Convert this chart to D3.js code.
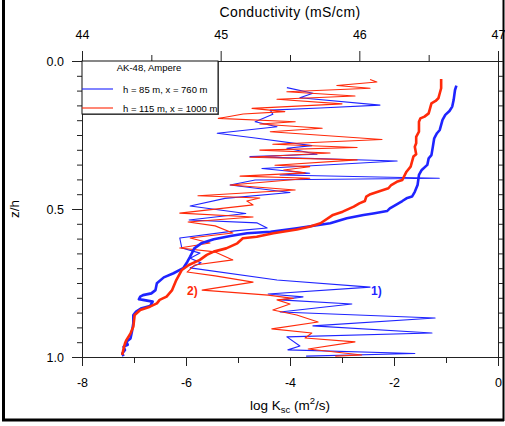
<!DOCTYPE html>
<html><head><meta charset="utf-8">
<script src="https://cdn.jsdelivr.net/npm/d3@7"></script>
<style>body{margin:0;background:#fff}svg{display:block}text{font-family:"Liberation Sans",Arial,sans-serif}</style>
</head><body><svg id="c" width="505" height="426"></svg>
<script>
// ---- data ----
const xTicksK = [-8,-6,-4,-2,0];
const xTicksC = [44,45,46,47];
const yTicks = [0,0.5,1.0];
const seriesNames = ["h = 85 m, x = 760 m","h = 115 m, x = 1000 m"];
const legendTitle = "AK-48, Ampere";
// thick lines: conductivity (mS/cm) vs z/h
const condBlueC = [46.70,46.69,46.68,46.67,46.65,46.62,46.60,46.58,46.56,46.54,46.53,46.52,46.50,46.49,46.45,46.43,46.42,46.40,46.38,46.34,46.31,46.27,46.22,46.20,46.10,46.03,45.91,45.79,45.55,45.36,45.19,45.07,44.95,44.86,44.81,44.78,44.76,44.73,44.66,44.59,44.54,44.53,44.50,44.44,44.42,44.41,44.44,44.51,44.49,44.43,44.39,44.37,44.37,44.36,44.35,44.32,44.33,44.30,44.31,44.29,44.30];
const condBlueZ = [0.083,0.098,0.132,0.154,0.169,0.182,0.199,0.233,0.244,0.261,0.290,0.318,0.329,0.351,0.368,0.385,0.419,0.442,0.458,0.464,0.473,0.484,0.498,0.507,0.515,0.520,0.531,0.548,0.565,0.577,0.582,0.591,0.602,0.616,0.633,0.661,0.678,0.700,0.717,0.731,0.751,0.774,0.785,0.791,0.796,0.805,0.807,0.813,0.828,0.835,0.847,0.858,0.886,0.915,0.937,0.948,0.959,0.965,0.976,0.988,0.997];
const condRedC = [46.59,46.59,46.59,46.58,46.57,46.55,46.52,46.51,46.50,46.47,46.44,46.43,46.43,46.41,46.41,46.40,46.41,46.39,46.38,46.37,46.34,46.31,46.27,46.23,46.21,46.15,46.08,46.05,46.04,46.00,45.96,45.88,45.81,45.72,45.64,45.55,45.38,45.26,45.16,45.12,45.04,44.95,44.90,44.85,44.77,44.72,44.68,44.65,44.61,44.56,44.54,44.49,44.42,44.38,44.37,44.35,44.32,44.31,44.30,44.29];
const condRedZ = [0.061,0.075,0.092,0.109,0.126,0.135,0.143,0.160,0.177,0.188,0.194,0.205,0.239,0.256,0.278,0.290,0.315,0.323,0.340,0.357,0.374,0.402,0.408,0.419,0.430,0.439,0.450,0.458,0.473,0.481,0.492,0.509,0.520,0.548,0.560,0.569,0.582,0.594,0.599,0.616,0.633,0.644,0.655,0.672,0.689,0.706,0.740,0.774,0.796,0.807,0.819,0.830,0.841,0.858,0.898,0.920,0.943,0.954,0.971,0.993];
// thin lines: log Ksc (m2/s) vs z/h
const kscBlueK = [-4.06,-3.56,-3.81,-2.27,-3.42,-4.38,-4.33,-4.67,-4.25,-5.40,-4.67,-3.58,-4.06,-3.48,-4.77,-1.94,-4.54,-3.62,-4.19,-1.13,-4.67,-5.15,-4.00,-5.25,-5.92,-4.85,-5.94,-4.63,-4.44,-5.06,-6.12,-6.08,-5.73,-5.92,-5.71,-5.92,-4.25,-2.46,-4.42,-3.75,-4.19,-2.81,-4.19,-1.21,-3.56,-1.27,-4.06,-3.81,-4.04,-1.60,-3.69];
const kscBlueZ = [0.090,0.109,0.124,0.149,0.159,0.166,0.180,0.205,0.222,0.244,0.260,0.286,0.295,0.315,0.323,0.338,0.363,0.379,0.385,0.396,0.402,0.419,0.444,0.464,0.490,0.515,0.537,0.547,0.564,0.574,0.598,0.632,0.649,0.666,0.682,0.699,0.740,0.764,0.787,0.797,0.807,0.821,0.848,0.868,0.895,0.919,0.932,0.963,0.976,0.988,0.997];
const kscRedK = [-2.46,-2.33,-3.10,-2.46,-4.06,-2.75,-4.25,-3.00,-4.73,-4.10,-4.90,-5.38,-3.90,-4.58,-3.38,-4.38,-2.23,-4.33,-2.71,-4.58,-3.23,-4.77,-2.71,-4.29,-3.62,-4.12,-3.71,-4.96,-3.62,-5.15,-3.90,-5.77,-4.58,-4.83,-4.71,-6.12,-4.71,-5.96,-5.44,-5.10,-5.92,-5.54,-6.12,-5.44,-5.10,-5.83,-5.98,-5.44,-4.71,-5.69,-4.42,-3.94,-4.25,-4.00,-4.33,-3.87,-3.46,-4.35,-3.58,-3.71,-2.75,-3.65,-2.62,-3.13];
const kscRedZ = [0.0625,0.071,0.083,0.092,0.104,0.118,0.129,0.145,0.160,0.171,0.179,0.194,0.205,0.213,0.227,0.239,0.265,0.281,0.292,0.301,0.311,0.325,0.334,0.352,0.357,0.368,0.378,0.389,0.396,0.419,0.436,0.455,0.463,0.473,0.486,0.514,0.527,0.544,0.557,0.581,0.598,0.615,0.632,0.645,0.672,0.689,0.713,0.726,0.747,0.774,0.791,0.802,0.807,0.821,0.841,0.858,0.882,0.905,0.919,0.936,0.949,0.973,0.993,0.997];
const seriesLabels = ["1)","2)"];
const labelPos = [[-2.44,0.778],[-5.98,0.778]];

// ---- drawing ----
const svg = d3.select("#c");
const L=82,R=498,T=61,B=357;
const xK = d3.scaleLinear().domain([-8,0]).range([L,R]);
const xC = d3.scaleLinear().domain([44,47]).range([L,R]);
const y = d3.scaleLinear().domain([0,1]).range([T,B]);
const blue="#1f24ff", red="#ff2a0a";
const axisCol="#222";

// outer frame
svg.append("line").attr("x1",3.5).attr("x2",3.5).attr("y1",0).attr("y2",420).attr("stroke","#000").attr("stroke-width",3);
svg.append("line").attr("x1",2).attr("x2",504).attr("y1",420).attr("y2",420).attr("stroke","#000").attr("stroke-width",3);
svg.append("line").attr("x1",503.5).attr("x2",503.5).attr("y1",0).attr("y2",421).attr("stroke","#000").attr("stroke-width",2);

// axes
function styleAxis(g){g.select(".domain").attr("stroke",axisCol);g.selectAll(".tick line").attr("stroke",axisCol);g.selectAll("text").attr("fill","#000").style("font-size","12.5px").style("font-family","'Liberation Sans',Arial,sans-serif");}
const gb = svg.append("g").attr("transform",`translate(0,${B})`).call(d3.axisBottom(xK).tickValues(xTicksK).tickFormat(d3.format("d")).tickSize(9).tickSizeOuter(0).tickPadding(12));
styleAxis(gb);
gb.selectAll("text").text(d=>d<0?"-"+Math.abs(d):d);
svg.append("g").attr("transform",`translate(0,${B})`).call(d3.axisBottom(xK).tickValues([-7,-5,-3,-1]).tickFormat("").tickSize(6).tickSizeOuter(0)).call(g=>{g.select(".domain").remove();g.selectAll("line").attr("stroke",axisCol);});
const gt = svg.append("g").attr("transform",`translate(0,${T})`).call(d3.axisTop(xC).tickValues(xTicksC).tickFormat(d3.format("d")).tickSize(10).tickSizeOuter(0).tickPadding(12));
styleAxis(gt);
svg.append("g").attr("transform",`translate(0,${T})`).call(d3.axisTop(xC).tickValues([44.5,45.5,46.5]).tickFormat("").tickSize(6).tickSizeOuter(0)).call(g=>{g.select(".domain").remove();g.selectAll("line").attr("stroke",axisCol);});
const gl = svg.append("g").attr("transform",`translate(${L},0)`).call(d3.axisLeft(y).tickValues(yTicks).tickFormat(d3.format(".1f")).tickSize(10).tickSizeOuter(0).tickPadding(8));
styleAxis(gl);
const minorY = d3.range(1,20).filter(i=>i!==10).map(i=>i/20);
svg.append("g").attr("transform",`translate(${L},0)`).call(d3.axisLeft(y).tickValues(minorY).tickFormat("").tickSize(5).tickSizeOuter(0)).call(g=>{g.select(".domain").remove();g.selectAll("line").attr("stroke",axisCol);});
svg.append("g").attr("transform",`translate(${R},0)`).call(d3.axisRight(y).tickValues(d3.range(0,21).map(i=>i/20)).tickFormat("").tickSize(5).tickSizeOuter(0)).call(g=>{g.select(".domain").attr("stroke",axisCol);g.selectAll("line").attr("stroke",axisCol);});

// axis titles
svg.append("text").attr("x",290).attr("y",17).attr("text-anchor","middle").style("font-size","14px").style("letter-spacing","0.4px").text("Conductivity (mS/cm)");
const xt = svg.append("text").attr("x",290).attr("y",410).attr("text-anchor","middle").style("font-size","13.5px");
xt.append("tspan").text("log K");
xt.append("tspan").attr("dy",3).style("font-size","9.5px").text("sc");
xt.append("tspan").attr("dy",-3).text(" (m");
xt.append("tspan").attr("dy",-6).style("font-size","9.5px").text("2");
xt.append("tspan").attr("dy",6).text("/s)");
svg.append("text").attr("transform","translate(19,209) rotate(-90)").attr("text-anchor","middle").style("font-size","13.5px").text("z/h");

// lines
const lineK = d3.line().x(d=>xK(d[0])).y(d=>y(d[1]));
const lineC = d3.line().x(d=>xC(d[0])).y(d=>y(d[1])).curve(d3.curveLinear);
const zip=(a,b)=>a.map((v,i)=>[v,b[i]]);
svg.append("path").datum(zip(kscBlueK,kscBlueZ)).attr("d",lineK).attr("fill","none").attr("stroke",blue).attr("stroke-width",1.1).attr("stroke-linejoin","round");
svg.append("path").datum(zip(kscRedK,kscRedZ)).attr("d",lineK).attr("fill","none").attr("stroke",red).attr("stroke-width",1.1).attr("stroke-linejoin","round");
svg.append("path").datum(zip(condBlueC,condBlueZ)).attr("d",lineC).attr("fill","none").attr("stroke",blue).attr("stroke-width",2.6).attr("stroke-linejoin","round");
svg.append("path").datum(zip(condRedC,condRedZ)).attr("d",lineC).attr("fill","none").attr("stroke",red).attr("stroke-width",2.6).attr("stroke-linejoin","round");

// series labels
[blue,red].forEach((c,i)=>{
  svg.append("text").attr("x",xK(labelPos[i][0])).attr("y",y(labelPos[i][1])+4).attr("fill",c).style("font-size","12px").style("font-weight","bold").text(seriesLabels[i]);
});

// legend
const lg = svg.append("g");
lg.append("rect").attr("x",83).attr("y",62).attr("width",136).attr("height",53).attr("fill","#666");
lg.append("rect").attr("x",82).attr("y",61).attr("width",136).attr("height",53).attr("fill","#fff").attr("stroke","#111").attr("stroke-width",1);
lg.append("text").attr("x",149).attr("y",71).attr("text-anchor","middle").style("font-size","9.5px").text(legendTitle);
[blue,red].forEach((c,i)=>{
  const yy = [89,108][i];
  lg.append("line").attr("x1",82).attr("x2",113).attr("y1",yy).attr("y2",yy).attr("stroke",c).attr("stroke-width",1.5).attr("opacity",0.75);
  lg.append("text").attr("x",123).attr("y",yy+3.5).style("font-size","9.5px").text(seriesNames[i]);
});
</script></body></html>
